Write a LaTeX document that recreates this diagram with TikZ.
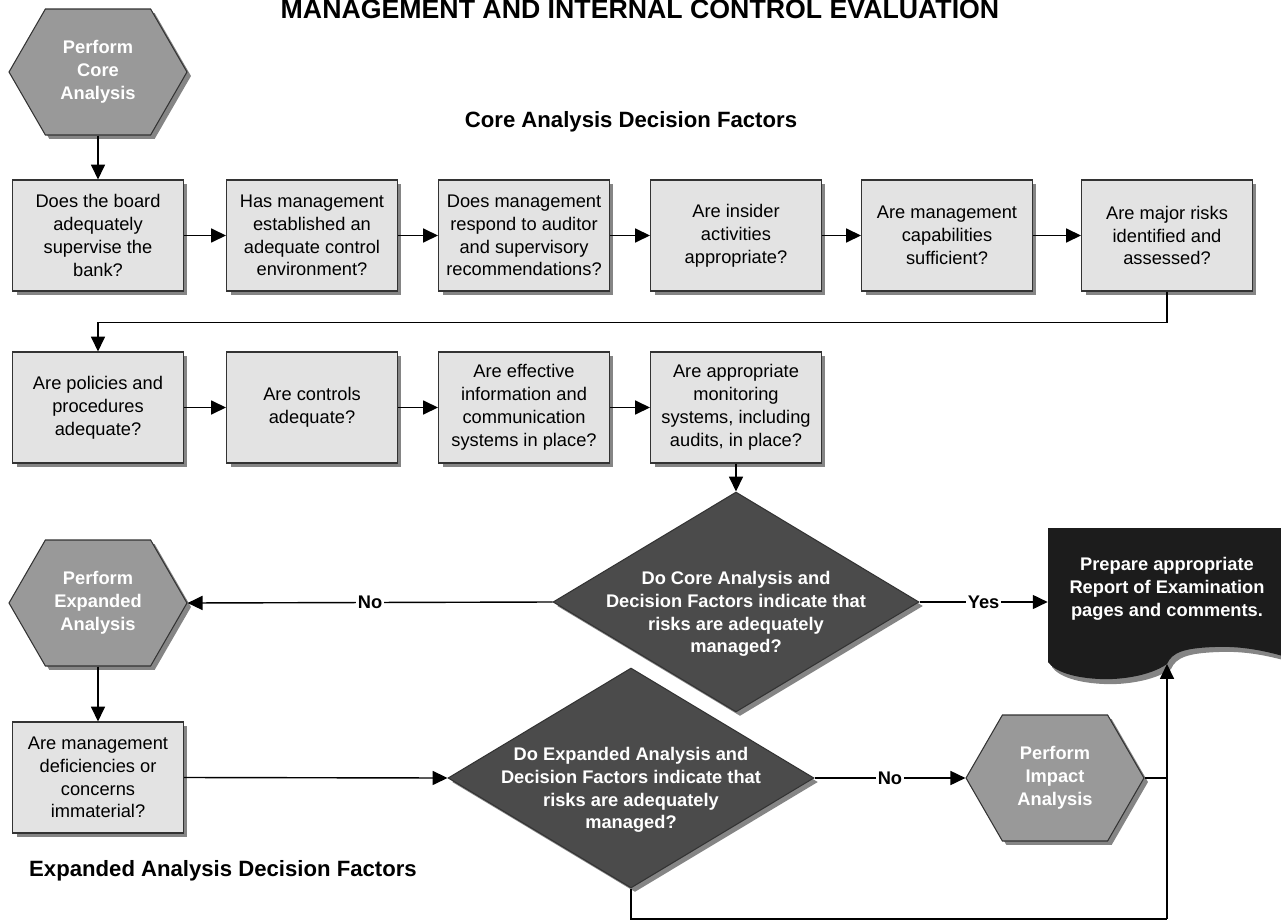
\documentclass[tikz,border=0pt]{standalone}
\usepackage{fontspec}
\setmainfont{Liberation Sans}
\usetikzlibrary{shapes.geometric,shapes.symbols,shadows,arrows.meta}

\definecolor{boxgray}{HTML}{E3E3E3}
\definecolor{hexgray}{HTML}{999999}
\definecolor{decgray}{HTML}{4B4B4B}
\definecolor{docblack}{HTML}{1C1C1C}
\definecolor{shadegray}{HTML}{858585}

\begin{document}
\begin{tikzpicture}[x=0.02cm, y=-0.02cm]
    \tikzset{
      shade/.style={drop shadow={shadow xshift=0.08cm, shadow yshift=-0.08cm,
                    fill=shadegray, opacity=1}},
      qbox/.style={rectangle, draw=black!80, line width=0.6pt, fill=boxgray,
                   minimum width=3.42cm, minimum height=2.22cm, align=center,
                   font=\fontsize{10.4}{13}\selectfont, shade},
      hexa/.style={signal, signal to=west and east, signal pointer angle=120,
                   draw=black!80, line width=0.6pt, fill=hexgray,
                   minimum width=3.56cm, minimum height=2.52cm, align=center,
                   text=white, font=\bfseries\fontsize{10.4}{13}\selectfont, shade},
      dec/.style={diamond, aspect=1.66, draw=black!80, line width=0.6pt,
                  fill=decgray, minimum width=7.32cm, minimum height=4.4cm,
                  inner sep=0pt, shade},
      dectext/.style={align=center, text=white,
                      font=\bfseries\fontsize{10.4}{13}\selectfont},
      arr/.style={-{Triangle[length=8.5pt,width=8pt]}, line width=0.8pt},
      link/.style={line width=0.8pt},
      tag/.style={fill=white, inner sep=1pt,
                  font=\bfseries\fontsize{10.4}{12}\selectfont}
    }
    \useasboundingbox (0,0) rectangle (1281,922);

    % Titel und Ueberschriften
    \node[anchor=base, font=\bfseries\fontsize{15.2}{18}\selectfont] (title) at (640,19)
      {MANAGEMENT AND INTERNAL CONTROL EVALUATION};
    \node[anchor=base, font=\bfseries\fontsize{12.6}{15}\selectfont] (corelbl) at (631,128)
      {Core Analysis Decision Factors};
    \node[anchor=base, font=\bfseries\fontsize{12.6}{15}\selectfont] (explbl) at (223,876)
      {Expanded Analysis Decision Factors};

    % Kernanalyse
    \node[hexa] (core) at (98,72) {Perform\\Core\\Analysis};

    \node[qbox] (q1) at (98,235.5) {Does the board\\adequately\\supervise the\\bank?};
    \node[qbox] (q2) at (312,235.5) {Has management\\established an\\adequate control\\environment?};
    \node[qbox] (q3) at (524,235.5) {Does management\\respond to auditor\\and supervisory\\recommendations?};
    \node[qbox] (q4) at (736,235.5) {Are insider\\activities\\appropriate?};
    \node[qbox] (q5) at (947,235.5) {Are management\\capabilities\\sufficient?};
    \node[qbox] (q6) at (1167,235.5) {Are major risks\\identified and\\assessed?};

    \node[qbox] (q7) at (98,407.5) {Are policies and\\procedures\\adequate?};
    \node[qbox] (q8) at (312,407.5) {Are controls\\adequate?};
    \node[qbox] (q9) at (524,407.5) {Are effective\\information and\\communication\\systems in place?};
    \node[qbox] (q10) at (736,407.5) {Are appropriate\\monitoring\\systems, including\\audits, in place?};

    \node[dec] (coredec) at (736,602) {};
    \node[dectext] (coredectxt) at (736,614)
      {Do Core Analysis and\\Decision Factors indicate that\\risks are adequately\\managed?};

    % Bericht
    \fill[shadegray] (1052,533) -- (1300,533) -- (1300,665)
      .. controls (1269,655) and (1244,651) .. (1219,652)
      .. controls (1189,653) and (1176,657) .. (1171,669)
      .. controls (1154,681) and (1124,685) .. (1104,684)
      .. controls (1079,683) and (1059,677) .. (1052,667) -- cycle;
    \fill[docblack] (1048,528) -- (1296,528) -- (1296,660)
      .. controls (1265,650) and (1240,646) .. (1215,647)
      .. controls (1185,648) and (1172,652) .. (1167,664)
      .. controls (1150,676) and (1120,680) .. (1100,679)
      .. controls (1075,678) and (1055,672) .. (1048,662) -- cycle;
    \node[align=center, text=white, font=\bfseries\fontsize{10.4}{13}\selectfont,
          minimum width=4.76cm, minimum height=2.6cm] (report) at (1167,589)
      {Prepare appropriate\\Report of Examination\\pages and comments.};
    \coordinate (reportin) at (1167,664);

    % Erweiterte Analyse
    \node[hexa] (expanded) at (98,603) {Perform\\Expanded\\Analysis};
    \node[qbox] (q11) at (98,777.5) {Are management\\deficiencies or\\concerns\\immaterial?};

    \node[dec] (expdec) at (631,778) {};
    \node[dectext] (expdectxt) at (631,790)
      {Do Expanded Analysis and\\Decision Factors indicate that\\risks are adequately\\managed?};

    \node[hexa] (impact) at (1055,778) {Perform\\Impact\\Analysis};
    \coordinate (loopend) at (1167,919);

    % Pfeile
    \draw[arr] (core.south) -- (q1.north);
    \draw[arr] (q1.east) -- (q2.west);
    \draw[arr] (q2.east) -- (q3.west);
    \draw[arr] (q3.east) -- (q4.west);
    \draw[arr] (q4.east) -- (q5.west);
    \draw[arr] (q5.east) -- (q6.west);
    \draw[arr] (q6.south) -- ++(0,31) -| (q7.north);
    \draw[arr] (q7.east) -- (q8.west);
    \draw[arr] (q8.east) -- (q9.west);
    \draw[arr] (q9.east) -- (q10.west);
    \draw[arr] (q10.south) -- (coredec.north);

    \draw[arr] (coredec.west) -- node[tag] {No} (expanded.east);
    \draw[arr] (coredec.east) -- node[tag] {Yes} (coredec.east -| report.west);

    \draw[arr] (expanded.south) -- (q11.north);
    \draw[arr] (q11.east) -- (expdec.west);
    \draw[arr] (expdec.east) -- node[tag] {No} (impact.west);
    \draw[link] (impact.east) -- (impact.east -| reportin);
    \draw[link] (expdec.south) |- (loopend);
    \draw[arr] (loopend) -- (reportin);
\end{tikzpicture}
\end{document}
